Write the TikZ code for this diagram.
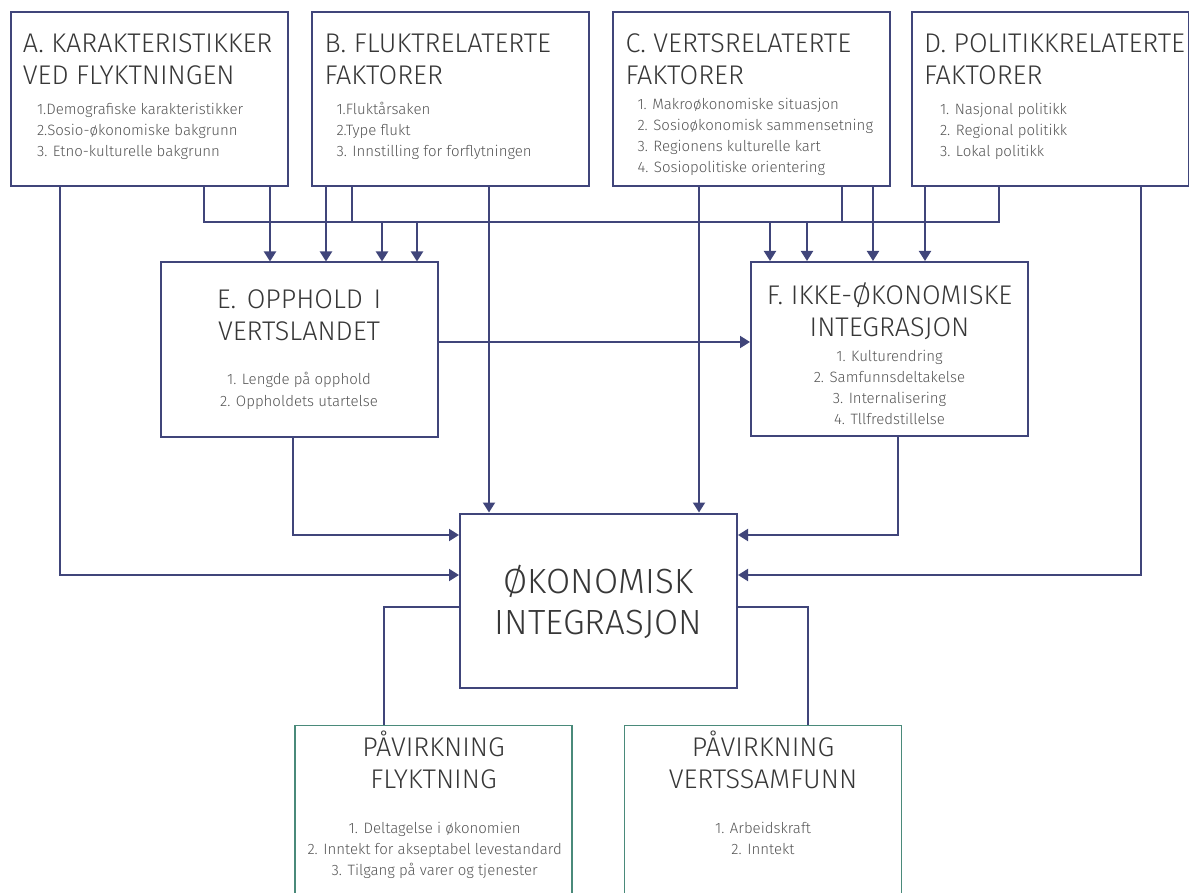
\documentclass[tikz,border=0pt]{standalone}
\usepackage{fontspec}
\setmainfont{Fira Sans Light}
\usetikzlibrary{arrows.meta}

\definecolor{linkblue}{RGB}{64,69,122}
\definecolor{boxgreen}{RGB}{74,138,122}
\definecolor{titlegray}{RGB}{55,55,55}
\definecolor{itemgray}{RGB}{85,85,85}

\newcommand{\itemlist}[2][l]{{\fontsize{7.5}{10.5}\selectfont\spaceskip=0pt\xspaceskip=0pt\color{itemgray}\begin{tabular}[t]{@{}#1@{}}#2\end{tabular}}}

\begin{document}
\begin{tikzpicture}[x=0.5pt,y=-0.5pt]

\tikzset{factor box/.style={
		draw=linkblue, line width=1pt,
		minimum width=138.5pt, minimum height=87pt,
		text width=126pt, inner xsep=6.25pt,
		align=left,
		font=\fontsize{13.5}{16}\selectfont, text=titlegray,
		execute at begin node={\spaceskip=0pt\xspaceskip=0pt},
		text height=10pt, text depth=#1
	},
	factor box/.default=56pt,
	stage box/.style={factor box=#1, align=center},
	impact box/.style={stage box=#1, draw=boxgreen, line width=0.75pt},
	link line/.style={draw=linkblue, line width=1pt},
	link/.style={link line, -{Triangle[length=5pt,width=6pt]}}
}

\path[use as bounding box] (0,0) rectangle (1189,893);
\clip (0,0) rectangle (1189,893);

%factors
\node[factor box] (A) at (149,99) {\mbox{A. KARAKTERISTIKKER}\\VED FLYKTNINGEN\\[-1pt]
	\hspace*{7pt}\itemlist{1.Demografiske karakteristikker\\2.Sosio-økonomiske bakgrunn\\3. Etno-kulturelle bakgrunn}};
\node[factor box] (B) at (450.5,99) {\mbox{B. FLUKTRELATERTE}\\FAKTORER\\[-1pt]
	\hspace*{6pt}\itemlist{1.Fluktårsaken\\2.Type flukt\\3. Innstilling for forflytningen}};
\node[factor box] (C) at (751.5,99) {\mbox{C. VERTSRELATERTE}\\FAKTORER\\[-3.5pt]
	\hspace*{6pt}\itemlist{1. Makroøkonomiske situasjon\\2. Sosioøkonomisk sammensetning\\3. Regionens kulturelle kart\\4. Sosiopolitiske orientering}};
\node[factor box] (D) at (1050,99) {\mbox{D. POLITIKKRELATERTE}\\FAKTORER\\[-1pt]
	\hspace*{8pt}\itemlist{1. Nasjonal politikk\\2. Regional politikk\\3. Lokal politikk}};

\node[stage box=50.5pt] (E) at (299,349.5) {E. OPPHOLD I\\VERTSLANDET\\[6pt]
	\itemlist[c]{1. Lengde på opphold\\2. Oppholdets utartelse}};
\node[stage box=54pt] (F) at (889.5,349) {F. IKKE-ØKONOMISKE\\INTEGRASJON\\[-3.5pt]
	\itemlist[c]{1. Kulturendring\\2. Samfunnsdeltakelse\\3. Internalisering\\4. Tllfredstillelse}};

\node[stage box=19.5pt, text height=12pt, font=\fontsize{17.5}{20.5}\selectfont] (O) at (598.5,600.5) {ØKONOMISK\\INTEGRASJON};

%impact
\node[impact box=66.5pt] (P) at (433.5,812.5) {PÅVIRKNING\\FLYKTNING\\[6.5pt]
	\itemlist[c]{1. Deltagelse i økonomien\\2. Inntekt for akseptabel levestandard\\3. Tilgang på varer og tjenester}};
\node[impact box=66.5pt] (V) at (763,812.5) {PÅVIRKNING\\VERTSSAMFUNN\\[6.5pt]
	\itemlist[c]{1. Arbeidskraft\\2. Inntekt}};

%common line under the factors
\draw[link line] (A.south -| 204,0) |- (999,222) -- (D.south -| 999,0);
\draw[link line] (B.south -| 352,0) -- (352,222);
\draw[link line] (C.south -| 842,0) -- (842,222);
\foreach \x in {382,417} \draw[link] (\x,222) -- (E.north -| \x,0);
\foreach \x in {770,807} \draw[link] (\x,222) -- (F.north -| \x,0);

\draw[link] (A.south -| 270,0) -- (E.north -| 270,0);
\draw[link] (B.south -| 326,0) -- (E.north -| 326,0);
\draw[link] (C.south -| 873,0) -- (F.north -| 873,0);
\draw[link] (D.south -| 925,0) -- (F.north -| 925,0);
\draw[link] (B.south -| 489,0) -- (O.north -| 489,0);
\draw[link] (C.south -| 699,0) -- (O.north -| 699,0);
\draw[link] (A.south -| 60,0) |- (O.west |- 0,575);
\draw[link] (D.south -| 1141,0) |- (O.east |- 0,575);
\draw[link] (E.south -| 293,0) |- (O.west |- 0,535);
\draw[link] (F.south -| 898,0) |- (O.east |- 0,535);
\draw[link] (E.east |- 0,342) -- (F.west |- 0,342);

\draw[link line] (O.west |- 0,607) -| (P.north -| 384,0);
\draw[link line] (O.east |- 0,607) -| (V.north -| 808,0);
\end{tikzpicture}
\end{document}
